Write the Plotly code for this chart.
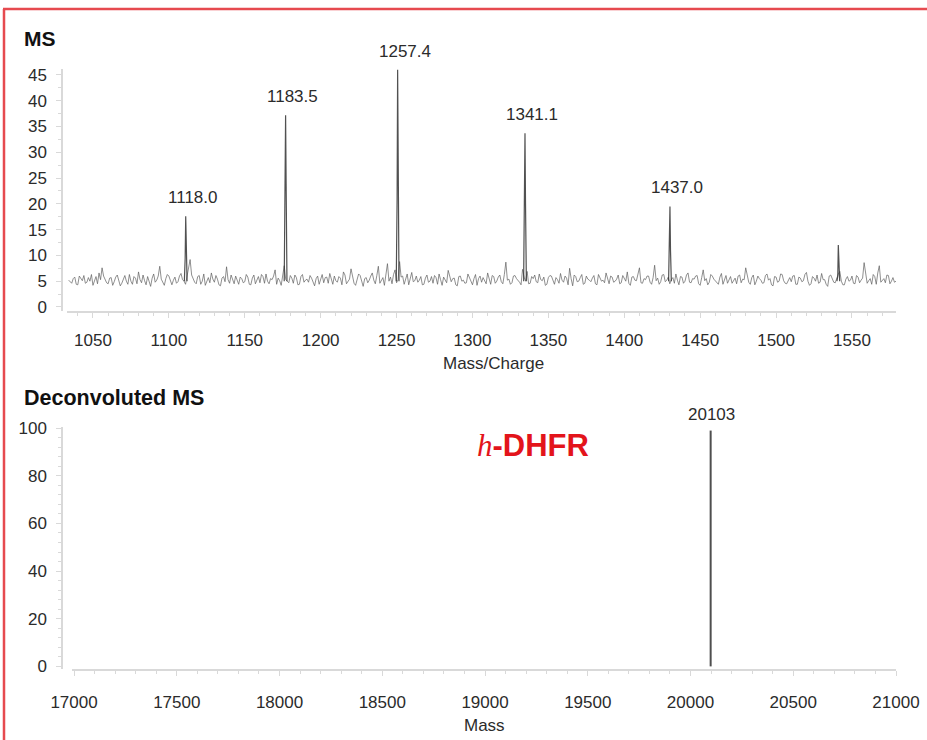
import plotly.graph_objects as go

W, H = 927, 740

# ---------------- data ----------------
# MS spectrum baseline noise: two interleaved sample sets (every 2 m/z units)
noise_start_a = 1034
noise_start_b = 1035
noise_step = 2
noise_a = [
    5.2, 4.6, 5.8, 4.3, 5.5, 6.1, 4.8, 5.0, 4.2, 5.9, 6.6, 7.6, 5.3, 4.5, 5.7, 4.9, 6.2, 4.1, 5.4, 5.0,
    6.3, 4.4, 5.6, 6.8, 4.7, 5.1, 5.9, 4.0, 6.4, 5.2, 7.9, 4.6, 5.5, 6.0, 4.3, 5.8, 4.9, 6.5, 5.0, 6.0,
    9.2, 5.3, 4.5, 6.1, 5.0, 4.2, 5.7, 6.6, 4.8, 5.4, 4.1, 5.9, 7.8, 4.6, 5.2, 6.0, 4.4, 5.5, 4.9, 5.8,
    4.3, 6.2, 5.1, 4.7, 5.9, 6.4, 4.5, 5.3, 7.2, 5.6, 4.2, 8.0, 5.0, 6.1, 4.6, 5.7, 4.4, 6.3, 5.2, 4.8,
    5.6, 4.1, 6.0, 5.3, 4.7, 5.8, 6.5, 4.4, 5.1, 5.9, 4.3, 6.2, 5.0, 7.4, 4.6, 5.5, 6.1, 4.0, 5.7, 5.2,
    6.6, 4.5, 7.9, 5.3, 4.2, 8.4, 5.8, 6.3, 4.7, 8.8, 6.0, 5.4, 4.3, 6.7, 5.1, 4.8, 5.9, 4.4, 6.2, 5.0,
    4.6, 5.7, 6.4, 4.2, 5.3, 7.1, 4.9, 5.6, 4.1, 6.0, 5.2, 4.7, 5.8, 4.3, 6.3, 5.5, 4.8, 5.1, 6.6, 4.4,
    5.9, 5.0, 6.2, 4.5, 8.7, 5.4, 4.7, 6.1, 5.2, 4.3, 5.8, 6.9, 4.6, 5.5, 4.9, 6.4, 5.1, 4.2, 5.7, 6.0,
    4.4, 5.3, 6.5, 4.8, 5.6, 7.5, 4.1, 5.9, 5.0, 6.3, 4.6, 5.4, 4.9, 6.1, 4.3, 5.7, 5.2, 6.6, 4.5, 5.8,
    5.0, 6.2, 4.7, 5.5, 6.8, 4.2, 5.9, 5.1, 7.6, 4.6, 5.3, 6.0, 4.4, 8.1, 5.6, 4.9, 6.3, 5.2, 4.5, 5.7,
    6.4, 4.3, 5.8, 5.0, 6.6, 4.7, 5.4, 6.1, 4.2, 7.2, 5.5, 4.8, 6.0, 5.1, 4.4, 6.5, 5.3, 4.6, 5.9, 5.0,
    4.5, 6.2, 5.4, 7.6, 4.8, 5.7, 4.3, 6.0, 5.2, 4.7, 6.4, 5.5, 4.1, 5.8, 5.0, 6.3, 4.6, 5.3, 4.9, 6.1,
    4.4, 5.6, 5.1, 6.7, 4.2, 5.9, 5.0, 4.6, 6.5, 5.3, 4.0, 6.2, 4.8, 5.7, 6.9, 4.3, 5.4, 5.0, 6.0, 4.5,
    5.8, 5.2, 8.6, 4.6, 5.5, 6.3, 4.4, 8.0, 5.1, 4.7, 6.1, 5.0, 4.8,
]
noise_b = [
    4.8, 5.5, 4.4, 6.0, 5.1, 4.6, 5.7, 6.3, 4.9, 4.5, 5.3, 6.0, 4.7, 5.6, 4.2, 5.8, 5.0, 4.6, 6.1, 4.4,
    5.0, 5.9, 4.5, 5.3, 6.2, 4.3, 5.0, 5.6, 4.8, 6.0, 5.4, 4.2, 6.3, 4.9, 5.2, 4.6, 6.0, 5.3, 4.4, 7.1,
    6.2, 4.8, 5.9, 4.4, 6.4, 5.2, 4.7, 5.4, 6.1, 4.3, 5.6, 4.9, 5.3, 6.2, 4.5, 5.0, 5.8, 4.7, 6.3, 4.4,
    5.6, 4.5, 5.9, 6.3, 4.6, 5.0, 5.5, 6.0, 4.4, 5.1, 6.4, 5.3, 4.7, 5.6, 6.2, 4.3, 5.9, 4.8, 5.4, 6.1,
    4.9, 5.5, 4.4, 6.3, 5.7, 4.6, 5.2, 6.0, 4.8, 5.6, 6.8, 4.5, 5.4, 5.9, 4.2, 6.4, 5.0, 5.5, 4.7, 6.0,
    5.2, 6.1, 4.6, 5.7, 6.5, 5.0, 4.5, 7.2, 5.3, 5.8, 4.4, 6.4, 5.6, 4.9, 6.0, 5.2, 4.3, 5.6, 4.8, 5.9,
    6.1, 4.4, 5.3, 5.8, 4.7, 6.2, 5.5, 4.3, 5.9, 5.0, 4.6, 6.4, 5.1, 5.5, 4.2, 6.0, 5.7, 4.5, 5.3, 6.1,
    4.6, 5.8, 4.9, 6.3, 5.2, 4.4, 6.0, 5.5, 4.8, 7.3, 5.0, 4.5, 5.9, 6.2, 4.7, 5.3, 5.8, 4.4, 6.1, 5.0,
    5.7, 4.6, 5.2, 6.0, 4.3, 5.5, 6.2, 4.9, 5.7, 4.4, 6.0, 5.2, 5.6, 4.5, 6.3, 5.0, 4.7, 5.4, 6.0, 4.8,
    5.4, 4.5, 6.1, 5.0, 4.6, 5.8, 5.2, 6.4, 4.7, 5.5, 6.0, 4.8, 5.7, 5.1, 4.4, 6.2, 4.9, 5.8, 5.3, 4.6,
    5.2, 5.9, 4.6, 6.2, 4.8, 5.5, 6.0, 4.5, 5.7, 5.1, 4.3, 6.3, 5.4, 4.9, 5.8, 4.4, 6.1, 5.2, 4.6, 5.6,
    6.0, 4.7, 5.3, 5.8, 4.4, 6.2, 5.0, 5.5, 4.6, 6.1, 5.2, 4.3, 5.9, 4.8, 6.4, 5.1, 4.5, 5.7, 6.0, 4.4,
    5.8, 4.9, 6.3, 5.0, 4.5, 5.6, 6.2, 4.8, 5.3, 4.4, 6.0, 5.5, 4.7, 6.4, 5.0, 4.3, 5.9, 5.2, 4.6, 6.1,
    4.7, 5.6, 6.4, 5.1, 4.4, 5.9, 6.6, 4.8, 5.5, 6.2, 4.5, 5.7, 5.0,
]

# MS peaks (position on the drawn axis, apex intensity, intensity near the base, label)
peak_mz = [1111.1, 1176.9, 1250.7, 1334.6, 1430.1, 1541.0]
peak_int = [17.6, 37.2, 46.0, 33.7, 19.5, 12.0]
peak_shoulder = [9.5, 24.0, 21.0, 20.0, 11.0, 6.0]
peak_labels = ["1118.0", "1183.5", "1257.4", "1341.1", "1437.0", ""]

# Deconvoluted spectrum
decon_mass = [20098]
decon_int = [99.0]
decon_labels = ["20103"]

ms_x_ticks = [1050, 1100, 1150, 1200, 1250, 1300, 1350, 1400, 1450, 1500, 1550]
ms_y_ticks = [0, 5, 10, 15, 20, 25, 30, 35, 40, 45]
dec_x_ticks = [17000, 17500, 18000, 18500, 19000, 19500, 20000, 20500, 21000]
dec_y_ticks = [0, 20, 40, 60, 80, 100]

# ---------------- figure ----------------
FONT = "Liberation Sans, Arial, Helvetica, sans-serif"
TXT = "#2b2b2b"
AX = "#d9d9d9"


def px(x):
    return x / W


def py(y):
    return 1 - y / H


fig = go.Figure()

pts = [(noise_start_a + noise_step * i, v) for i, v in enumerate(noise_a)]
pts += [(noise_start_b + noise_step * i, v) for i, v in enumerate(noise_b)]
pts.sort()
fig.add_trace(go.Scatter(
    x=[p[0] for p in pts], y=[p[1] for p in pts], mode="lines",
    line=dict(color="rgba(95,95,95,0.7)", width=1),
    xaxis="x", yaxis="y", hoverinfo="skip", showlegend=False))

# peaks
pk_x, pk_y = [], []
for m, top, sh in zip(peak_mz, peak_int, peak_shoulder):
    pk_x += [m - 0.9, m - 0.35, m, m + 0.35, m + 0.9, None]
    pk_y += [5.0, sh, top, sh, 5.0, None]
fig.add_trace(go.Scatter(
    x=pk_x, y=pk_y, mode="lines",
    line=dict(color="rgba(50,50,50,0.85)", width=1.2),
    xaxis="x", yaxis="y", hoverinfo="skip", showlegend=False))

# deconvoluted stick
dx, dy = [], []
for m, v in zip(decon_mass, decon_int):
    dx += [m, m, None]
    dy += [0, v, None]
fig.add_trace(go.Scatter(
    x=dx, y=dy, mode="lines",
    line=dict(color="rgba(60,60,60,0.9)", width=2),
    xaxis="x2", yaxis="y2", hoverinfo="skip", showlegend=False))

annotations = []
for m, v, lab in zip(peak_mz, peak_int, peak_labels):
    if lab:
        annotations.append(dict(
            x=m, y=v, xref="x", yref="y", text=lab, showarrow=False,
            xanchor="center", yanchor="bottom", xshift=7, yshift=7,
            font=dict(family=FONT, size=17, color=TXT)))
for m, v, lab in zip(decon_mass, decon_int, decon_labels):
    annotations.append(dict(
        x=m, y=v, xref="x2", yref="y2", text=lab, showarrow=False,
        xanchor="center", yanchor="bottom", xshift=1, yshift=5,
        font=dict(family=FONT, size=17, color=TXT)))

# panel titles
annotations.append(dict(x=px(22), y=py(38), xref="paper", yref="paper", text="<b>MS</b>",
                        showarrow=False, xanchor="left", yanchor="middle",
                        font=dict(family=FONT, size=21, color="#111")))
annotations.append(dict(x=px(22), y=py(398), xref="paper", yref="paper",
                        text="<b>Deconvoluted MS</b>",
                        showarrow=False, xanchor="left", yanchor="middle",
                        font=dict(family=FONT, size=21.5, color="#111")))
# axis titles
annotations.append(dict(x=px(493), y=py(363), xref="paper", yref="paper", text="Mass/Charge",
                        showarrow=False, xanchor="center", yanchor="middle",
                        font=dict(family=FONT, size=17, color=TXT)))
annotations.append(dict(x=px(485), y=py(725), xref="paper", yref="paper", text="Mass",
                        showarrow=False, xanchor="center", yanchor="middle",
                        font=dict(family=FONT, size=17, color=TXT)))
# protein label
annotations.append(dict(
    x=px(533), y=py(445), xref="paper", yref="paper",
    text="<span style=\"font-family:'Liberation Serif',serif;font-style:italic\">h</span><b>-DHFR</b>",
    showarrow=False, xanchor="center", yanchor="middle",
    font=dict(family=FONT, size=31, color="#e3141b")))

axis_common = dict(
    showline=True, linecolor=AX, linewidth=1.5, showgrid=False, zeroline=False,
    ticks="outside", tickcolor=AX, ticklen=5, tickwidth=1,
    tickfont=dict(family=FONT, size=17, color=TXT), automargin=False,
)

fig.update_layout(
    width=W, height=H,
    margin=dict(l=0, r=0, t=0, b=0),
    paper_bgcolor="white", plot_bgcolor="white",
    template="none",
    showlegend=False,
    xaxis=dict(domain=[px(67), px(896)], range=[1032.9, 1579.0], anchor="y",
               tickmode="array", tickvals=ms_x_ticks, ticklabelstandoff=8,
               minor=dict(dtick=10, tick0=1000, ticks="outside", ticklen=3, tickcolor=AX),
               **axis_common),
    yaxis=dict(domain=[py(311), py(69)], range=[-0.78, 46.16], anchor="free", position=px(62),
               tickmode="array", tickvals=ms_y_ticks, ticklabelstandoff=6,
               minor=dict(dtick=2.5, tick0=0, ticks="outside", ticklen=3, tickcolor=AX),
               **axis_common),
    xaxis2=dict(domain=[px(72), px(896)], range=[16990, 21000], anchor="y2",
                tickmode="array", tickvals=dec_x_ticks,
                ticktext=[str(v) for v in dec_x_ticks], ticklabelstandoff=12,
                minor=dict(dtick=100, tick0=17000, ticks="outside", ticklen=3, tickcolor=AX),
                **axis_common),
    yaxis2=dict(domain=[py(669), py(427)], range=[-1.1, 100.5], anchor="free", position=px(62),
                tickmode="array", tickvals=dec_y_ticks, ticklabelstandoff=6,
                minor=dict(dtick=4, tick0=0, ticks="outside", ticklen=3, tickcolor=AX),
                **axis_common),
    annotations=annotations,
    shapes=[
        dict(type="line", xref="paper", yref="paper", x0=px(3), x1=1, y0=py(9), y1=py(9),
             line=dict(color="#e64a4f", width=2.5)),
        dict(type="line", xref="paper", yref="paper", x0=px(4), x1=px(4), y0=py(9), y1=0,
             line=dict(color="#e64a4f", width=2.5)),
    ],
)

fig.write_html("out.html", config={"displayModeBar": False},
               post_script="document.body.style.margin='0';document.body.style.padding='0';")
